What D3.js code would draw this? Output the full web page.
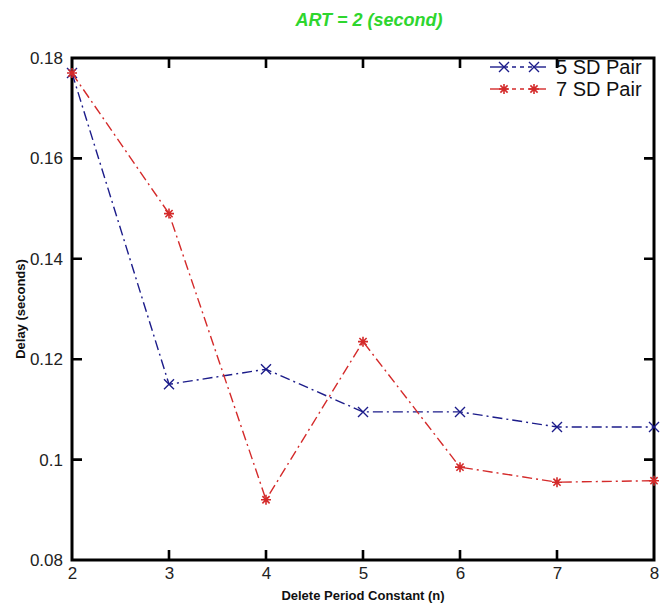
<!DOCTYPE html>
<html>
<head>
<meta charset="utf-8">
<script src="https://cdn.jsdelivr.net/npm/d3@7"></script>
<style>
  body { margin: 0; background: #fff; }
  svg { font-family: Arial, "Liberation Sans", sans-serif; }
</style>
</head>
<body>
<div id="chart"></div>
<script>
	var width = 668, height = 604;
	var margin = {top: 58, right: 14, bottom: 44, left: 72};

	// data
	var nValues = [2, 3, 4, 5, 6, 7, 8];
	var pair5 = [0.177, 0.115, 0.118, 0.1095, 0.1095, 0.1065, 0.1065];
	var pair7 = [0.177, 0.149, 0.092, 0.1235, 0.0985, 0.0955, 0.0958];
	var yTicks = [0.08, 0.1, 0.12, 0.14, 0.16, 0.18];
	var seriesNames = ["5 SD Pair", "7 SD Pair"];
	var seriesColors = ["#1c1c8a", "#d42a2a"];

	var series = [
		{name: seriesNames[0], color: seriesColors[0], marker: "x", values: pair5},
		{name: seriesNames[1], color: seriesColors[1], marker: "star", values: pair7}
	];

	var svg = d3.select("#chart")
		.append("svg")
		.attr("width", width)
		.attr("height", height)

	var x = d3.scaleLinear().domain([2, 8]).range([margin.left, width - margin.right])
	var y = d3.scaleLinear().domain([0.08, 0.18]).range([height - margin.bottom, margin.top])

	var fmtY = function(d) { return String(+d.toFixed(2)); }

	// tick labels from the axes
	var xAxis = svg.append("g")
		.attr("transform", "translate(0," + y(0.08) + ")")
		.call(d3.axisBottom(x).tickValues(nValues).tickFormat(d3.format("d")).tickSize(0).tickPadding(7))
	var yAxis = svg.append("g")
		.attr("transform", "translate(" + x(2) + ",0)")
		.call(d3.axisLeft(y).tickValues(yTicks).tickFormat(fmtY).tickSize(0).tickPadding(9))
	xAxis.select(".domain").remove()
	yAxis.select(".domain").remove()
	svg.selectAll(".tick text")
		.attr("font-size", 17)
		.attr("fill", "#222")

	// frame and inward ticks
	var frame = svg.append("g")
	frame.append("rect")
		.attr("x", x(2)).attr("y", y(0.18))
		.attr("width", x(8) - x(2)).attr("height", y(0.08) - y(0.18))
		.attr("fill", "none").attr("stroke", "black").attr("stroke-width", 3)
	var tl = 10;
	var tickPath = "";
	nValues.slice(1, -1).forEach(function(d) {
		tickPath += "M" + x(d) + "," + y(0.08) + "v" + (-tl) + "M" + x(d) + "," + y(0.18) + "v" + tl;
	})
	yTicks.slice(1, -1).forEach(function(d) {
		tickPath += "M" + x(2) + "," + y(d) + "h" + tl + "M" + x(8) + "," + y(d) + "h" + (-tl);
	})
	frame.append("path").attr("d", tickPath)
		.attr("fill", "none").attr("stroke", "black").attr("stroke-width", 2.6)

	// titles
	svg.append("text")
		.attr("x", (x(2) + x(8)) / 2 + 6)
		.attr("y", 26)
		.attr("text-anchor", "middle")
		.attr("font-size", 18)
		.attr("font-weight", "bold")
		.attr("font-style", "italic")
		.attr("fill", "#2ed62e")
		.text("ART = 2 (second)")

	svg.append("text")
		.attr("x", (x(2) + x(8)) / 2)
		.attr("y", 600)
		.attr("text-anchor", "middle")
		.attr("font-size", 13)
		.attr("font-weight", "bold")
		.attr("fill", "#111")
		.text("Delete Period Constant (n)")

	svg.append("text")
		.attr("transform", "translate(20," + ((y(0.08) + y(0.18)) / 2) + ") rotate(-90)")
		.attr("text-anchor", "middle")
		.attr("dy", "0.35em")
		.attr("font-size", 13)
		.attr("font-weight", "bold")
		.attr("fill", "#111")
		.text("Delay (seconds)")

	var line = d3.line()
		.x(function(d, i) { return x(nValues[i]) })
		.y(function(d) { return y(d) })

	function drawMarker(g, kind, color) {
		if (kind === "x") {
			g.append("path").attr("d", "M-5,-5L5,5M-5,5L5,-5")
				.style("stroke", color).style("stroke-width", 1.4).style("fill", "none")
		} else {
			g.append("path").attr("d", "M-5,0L5,0M0,-5L0,5M-3.6,-3.6L3.6,3.6M-3.6,3.6L3.6,-3.6")
				.style("stroke", color).style("stroke-width", 1.6).style("fill", "none")
		}
	}

	series.forEach(function(s) {
		svg.append("path")
			.datum(s.values)
			.attr("d", line)
			.style("fill", "none")
			.style("stroke", s.color)
			.style("stroke-width", 1.4)
			.style("stroke-dasharray", "10,4,2,4")

		s.values.forEach(function(v, i) {
			var g = svg.append("g").attr("transform", "translate(" + x(nValues[i]) + "," + y(v) + ")")
			drawMarker(g, s.marker, s.color)
		})
	})

	// legend
	var legend = svg.append("g").attr("transform", "translate(490,67)")
	series.forEach(function(s, i) {
		var row = legend.append("g").attr("transform", "translate(0," + (i * 22) + ")")
		row.append("line").attr("x1", 0).attr("x2", 14).style("stroke", s.color).style("stroke-width", 1.4)
		row.append("line").attr("x1", 14).attr("x2", 44).style("stroke", s.color).style("stroke-width", 1.4)
			.style("stroke-dasharray", "4,4")
		row.append("line").attr("x1", 44).attr("x2", 56).style("stroke", s.color).style("stroke-width", 1.4)
		drawMarker(row.append("g").attr("transform", "translate(14,0)"), s.marker, s.color)
		drawMarker(row.append("g").attr("transform", "translate(44,0)"), s.marker, s.color)
		row.append("text")
			.attr("x", 66)
			.attr("y", 7)
			.attr("font-size", 20)
			.attr("fill", "#111")
			.text(s.name)
	})
</script>
</body>
</html>
